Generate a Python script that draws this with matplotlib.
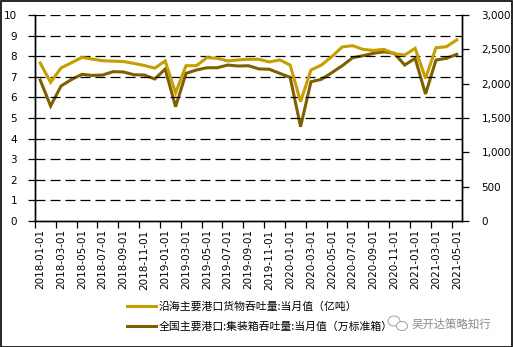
import matplotlib
matplotlib.use("Agg")
import matplotlib.pyplot as plt
from matplotlib.lines import Line2D
from matplotlib.patches import Rectangle, Ellipse
from matplotlib.ticker import FuncFormatter, FixedLocator

plt.rcParams['font.family'] = ['DejaVu Sans']

# Monthly dates 2018-01 .. 2021-05
months = [f"{y}-{m:02d}-01" for y in range(2018, 2022) for m in range(1, 13)][:41]

# Coastal ports cargo throughput, monthly (100 million tonnes)
cargo = [7.67, 6.73, 7.43, 7.68, 7.94, 7.86, 7.78, 7.76, 7.74, 7.65,
         7.55, 7.42, 7.77, 6.22, 7.54, 7.54, 7.93, 7.90, 7.77, 7.82,
         7.85, 7.85, 7.72, 7.82, 7.57, 5.79, 7.33, 7.57, 7.98, 8.45,
         8.51, 8.33, 8.28, 8.33, 8.12, 8.06, 8.38, 6.93, 8.41, 8.46,
         8.79]

# National ports container throughput, monthly (10k TEU)
teu = [2053, 1675, 1966, 2060, 2136, 2120, 2126, 2175, 2170, 2130,
       2126, 2068, 2213, 1664, 2150, 2199, 2232, 2232, 2271, 2257,
       2261, 2215, 2210, 2150, 2092, 1373, 2028, 2063, 2160, 2261,
       2378, 2407, 2442, 2465, 2442, 2271, 2369, 1849, 2344, 2369,
       2427]

label_cargo = "沿海主要港口货物吞吐量:当月值（亿吨）"
label_teu = "全国主要港口:集装箱吞吐量:当月值（万标准箱）"

c_gold = "#C69E00"
c_brown = "#7F6000"

W, H = 513, 347
fig = plt.figure(figsize=(W / 100, H / 100), dpi=100)
fig.patch.set_facecolor("white")

left, right, top, bottom = 35, 462, 15, 221
ax = fig.add_axes([left / W, 1 - bottom / H, (right - left) / W, (bottom - top) / H])
ax2 = ax.twinx()

x = list(range(len(months)))
ax.plot(x, cargo, color=c_gold, lw=2.2, solid_joinstyle="miter", zorder=3)
ax2.plot(x, teu, color=c_brown, lw=2.2, solid_joinstyle="miter", zorder=3)

# keep the left-scale axis (and gold line) in front
ax.set_zorder(ax2.get_zorder() + 1)
ax.patch.set_visible(False)
ax.set_xlim(-0.5, len(months) - 0.5)
ax2.set_xlim(-0.5, len(months) - 0.5)
ax.set_ylim(0, 10)
ax2.set_ylim(0, 3000)

# grid lines on left scale
for v in range(1, 11):
    ax.axhline(v, color="black", lw=0.9, ls=(0, (8, 4)), zorder=1)

ax.set_yticks(range(0, 11))
ax.tick_params(axis="y", direction="out", length=5, width=0.9, labelsize=7.5, pad=8)
ax2.set_yticks(range(0, 3001, 500))
ax2.yaxis.set_major_formatter(FuncFormatter(lambda v, p: f"{int(v):,}"))
ax2.tick_params(axis="y", direction="out", length=5, width=0.9, labelsize=7.5, pad=9)

# ticks between categories, labels at every other month
ax.xaxis.set_major_locator(FixedLocator([i - 0.5 for i in range(0, len(months) + 1, 2)]))
ax.xaxis.set_minor_locator(FixedLocator(list(range(0, len(months), 2))))
ax.set_xticklabels([])
ax.set_xticklabels([months[i] for i in range(0, len(months), 2)], minor=True,
                   rotation=90, fontsize=7.5)
ax.tick_params(axis="x", which="major", direction="out", length=5, width=0.9)
ax.tick_params(axis="x", which="minor", length=0, pad=6)
ax2.tick_params(axis="x", length=0)

for a in (ax, ax2):
    a.spines["top"].set_visible(False)
    for s in ("left", "right", "bottom"):
        a.spines[s].set_linewidth(1.0)
        a.spines[s].set_color("black")

# legend
handles = [Line2D([], [], color=c_gold, lw=2.2), Line2D([], [], color=c_brown, lw=2.2)]
fig.legend(handles, [label_cargo, label_teu], loc="upper left",
           bbox_to_anchor=(127 / W, 1 - 301 / H), frameon=False,
           prop={"family": ["Noto Sans CJK SC", "DejaVu Sans"], "size": 7.8},
           handlelength=2.7, handletextpad=0.2, labelspacing=0.95,
           borderpad=0, borderaxespad=0)

# watermark
fig.text(412 / W, 1 - 324 / H, "吴开达策略知行", fontsize=8.2, color="#8a8a8a",
         family=["Noto Sans CJK SC", "DejaVu Sans"], va="center", ha="left")
fig.patches.append(Ellipse((394 / W, 1 - 321 / H), 12 / W, 10 / H, fill=False,
                           ec="#a0a0a0", lw=0.7, transform=fig.transFigure))
fig.patches.append(Ellipse((402 / W, 1 - 326 / H), 11 / W, 9 / H, fill=True,
                           fc="white", ec="#a0a0a0", lw=0.7, transform=fig.transFigure))

# outer frame
fig.patches.append(Rectangle((0.5 / W, 0.5 / H), 1 - 1.5 / W, 1 - 1.5 / H, fill=False,
                             ec="black", lw=1.2, transform=fig.transFigure))

fig.savefig("out.png", dpi=100, facecolor="white")
